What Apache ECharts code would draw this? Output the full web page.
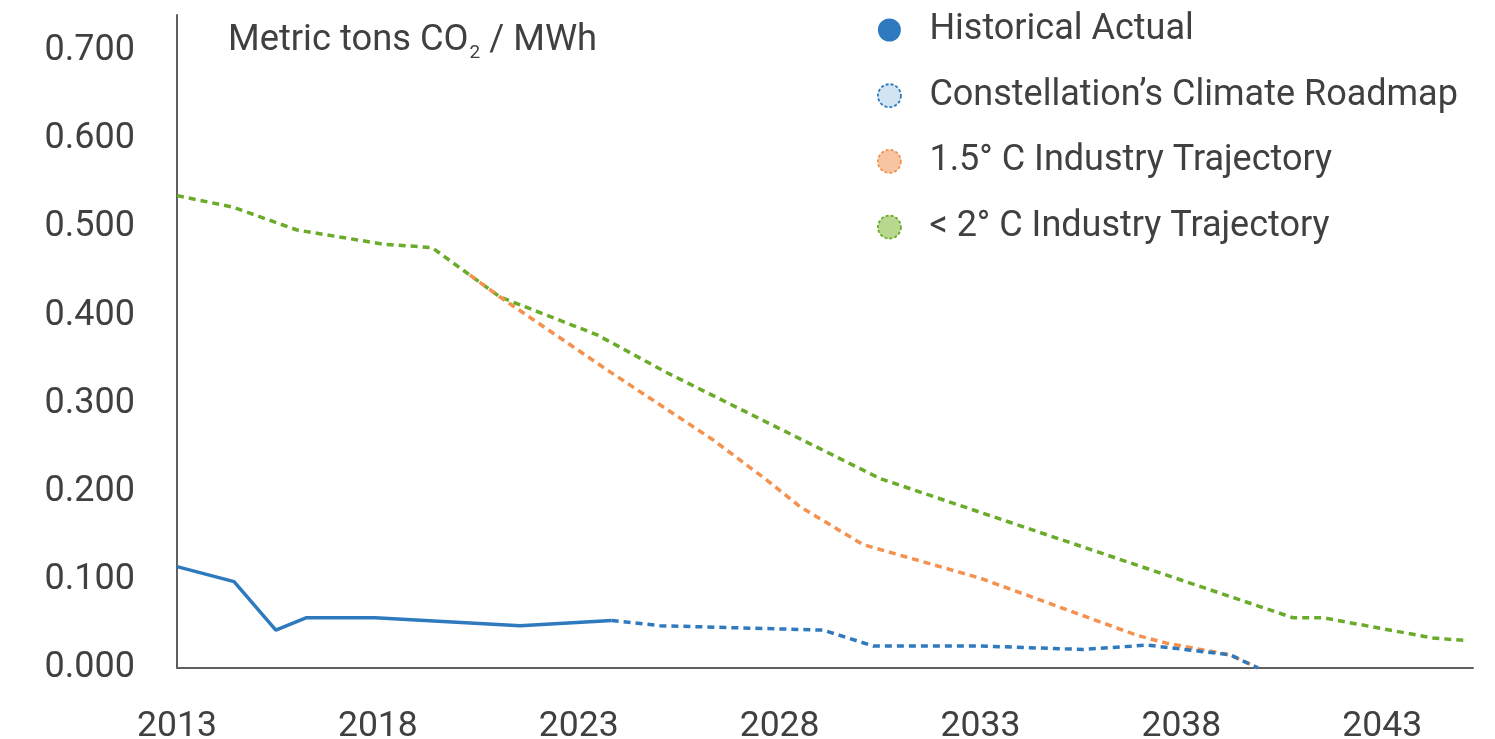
<!DOCTYPE html>
<html>
<head>
<meta charset="utf-8">
<title>Carbon intensity trajectories</title>
<script src="https://cdn.jsdelivr.net/npm/echarts@6/dist/echarts.min.js"></script>
<style>
  html, body { margin: 0; padding: 0; background: #ffffff; }
  #chart { width: 1495px; height: 739px; }
</style>
</head>
<body>
<div id="chart"></div>
<script>
// Emission intensity, metric tons CO2 per MWh, by year
const seriesNames = [
  'Historical Actual',
  'Constellation\u2019s Climate Roadmap',
  '1.5\u00b0 C Industry Trajectory',
  '< 2\u00b0 C Industry Trajectory'
];

const historicalYears  = [2013.0, 2014.42, 2015.46, 2016.21, 2017.93, 2021.54, 2023.82];
const historicalValues = [0.115, 0.098, 0.043, 0.057, 0.057, 0.048, 0.054];

const roadmapYears  = [2023.82, 2025.02, 2029.08, 2030.33, 2032.99, 2035.55, 2037.15, 2039.21, 2039.91];
const roadmapValues = [0.054, 0.048, 0.043, 0.025, 0.025, 0.021, 0.026, 0.015, 0.0];

const onePointFiveYears  = [2020.29, 2021.04, 2023.78, 2026.34, 2027.69, 2028.51, 2030.08, 2032.99, 2036.90, 2037.65, 2039.21, 2039.91];
const onePointFiveValues = [0.446, 0.421, 0.336, 0.259, 0.213, 0.183, 0.140, 0.102, 0.037, 0.028, 0.015, 0.0];

const belowTwoYears  = [2013.0, 2014.39, 2015.99, 2018.13, 2019.35, 2021.04, 2023.46, 2025.20, 2030.50, 2040.78, 2041.53, 2044.27, 2045.14];
const belowTwoValues = [0.536, 0.523, 0.497, 0.481, 0.477, 0.421, 0.378, 0.335, 0.215, 0.057, 0.057, 0.034, 0.031];

const xTickStart = 2013;
const xTickStep = 5;
const yTickStep = 0.1;

const pairs = (xs, ys) => xs.map((x, i) => [x, ys[i]]);

const TEXT = '#404040';
const FONT = 'Roboto';
const BLUE = '#2f7abf';
const ORANGE = '#f4914f';
const GREEN = '#6aab2a';
const DASH = [7, 5];

const chart = echarts.init(document.getElementById('chart'), null, { renderer: 'canvas' });

chart.setOption({
  animation: false,
  backgroundColor: '#ffffff',
  textStyle: { fontFamily: FONT },
  grid: { left: 177, right: 22, top: 15, bottom: 71, containLabel: false, outerBoundsMode: 'none' },
  title: {
    left: 223,
    top: 18,
    text: '{a|Metric tons CO}{s|2}{a| / MWh}',
    textStyle: {
      fontWeight: 'normal',
      rich: {
        a: { fontFamily: FONT, fontWeight: 'normal', fontSize: 36.3, color: TEXT, lineHeight: 40, verticalAlign: 'top' },
        s: { fontFamily: FONT, fontWeight: 'normal', fontSize: 19, color: TEXT, lineHeight: 19, verticalAlign: 'bottom', padding: [30, 0, 0, 1] }
      }
    }
  },
  legend: {
    orient: 'vertical',
    left: 872,
    top: 5,
    itemWidth: 70,
    itemHeight: 23,
    itemGap: 25.7,
    symbolKeepAspect: true,
    selectedMode: false,
    textStyle: { fontFamily: FONT, fontSize: 36, color: TEXT, lineHeight: 40 },
    data: [
      { name: seriesNames[0], icon: 'circle', itemStyle: { color: BLUE, borderWidth: 0 } },
      { name: seriesNames[1], icon: 'circle', itemStyle: { color: '#d2e3f2', borderColor: BLUE, borderWidth: 1.8, borderType: [3, 2] } },
      { name: seriesNames[2], icon: 'circle', itemStyle: { color: '#f8c5a3', borderColor: ORANGE, borderWidth: 1.8, borderType: [3, 2] } },
      { name: seriesNames[3], icon: 'circle', itemStyle: { color: '#b9d78f', borderColor: GREEN, borderWidth: 1.8, borderType: [3, 2] } }
    ]
  },
  xAxis: {
    type: 'value',
    min: 2013,
    max: 2045.26,
    interval: xTickStep,
    splitLine: { show: false },
    axisTick: { show: false },
    axisLine: { show: true, lineStyle: { color: '#5f5f5f', width: 2 } },
    axisLabel: {
      margin: 41,
      fontFamily: FONT,
      fontSize: 35.5,
      color: TEXT,
      showMaxLabel: false,
      formatter: v => {
        const k = (v - xTickStart) / xTickStep;
        return Math.abs(k - Math.round(k)) < 1e-6 ? String(Math.round(v)) : '';
      }
    }
  },
  yAxis: {
    type: 'value',
    min: 0,
    max: 0.741,
    interval: yTickStep,
    splitLine: { show: false },
    axisTick: { show: false },
    axisLine: { show: true, lineStyle: { color: '#5f5f5f', width: 2 } },
    axisLabel: {
      margin: 42,
      fontFamily: FONT,
      fontSize: 36,
      color: TEXT,
      formatter: v => {
        const k = v / yTickStep;
        return Math.abs(k - Math.round(k)) < 1e-6 ? v.toFixed(3) : '';
      }
    }
  },
  series: [
    {
      name: seriesNames[3],
      type: 'line',
      data: pairs(belowTwoYears, belowTwoValues),
      symbol: 'none',
      itemStyle: { color: GREEN },
      lineStyle: { color: GREEN, width: 3.5, type: DASH },
      z: 2
    },
    {
      name: seriesNames[2],
      type: 'line',
      data: pairs(onePointFiveYears, onePointFiveValues),
      symbol: 'none',
      itemStyle: { color: ORANGE },
      lineStyle: { color: ORANGE, width: 3.5, type: DASH },
      z: 3
    },
    {
      name: seriesNames[1],
      type: 'line',
      data: pairs(roadmapYears, roadmapValues),
      symbol: 'none',
      itemStyle: { color: BLUE },
      lineStyle: { color: BLUE, width: 3.5, type: DASH },
      z: 4
    },
    {
      name: seriesNames[0],
      type: 'line',
      data: pairs(historicalYears, historicalValues),
      symbol: 'none',
      itemStyle: { color: BLUE },
      lineStyle: { color: BLUE, width: 3.5, type: 'solid' },
      z: 5
    }
  ]
});
</script>
</body>
</html>
